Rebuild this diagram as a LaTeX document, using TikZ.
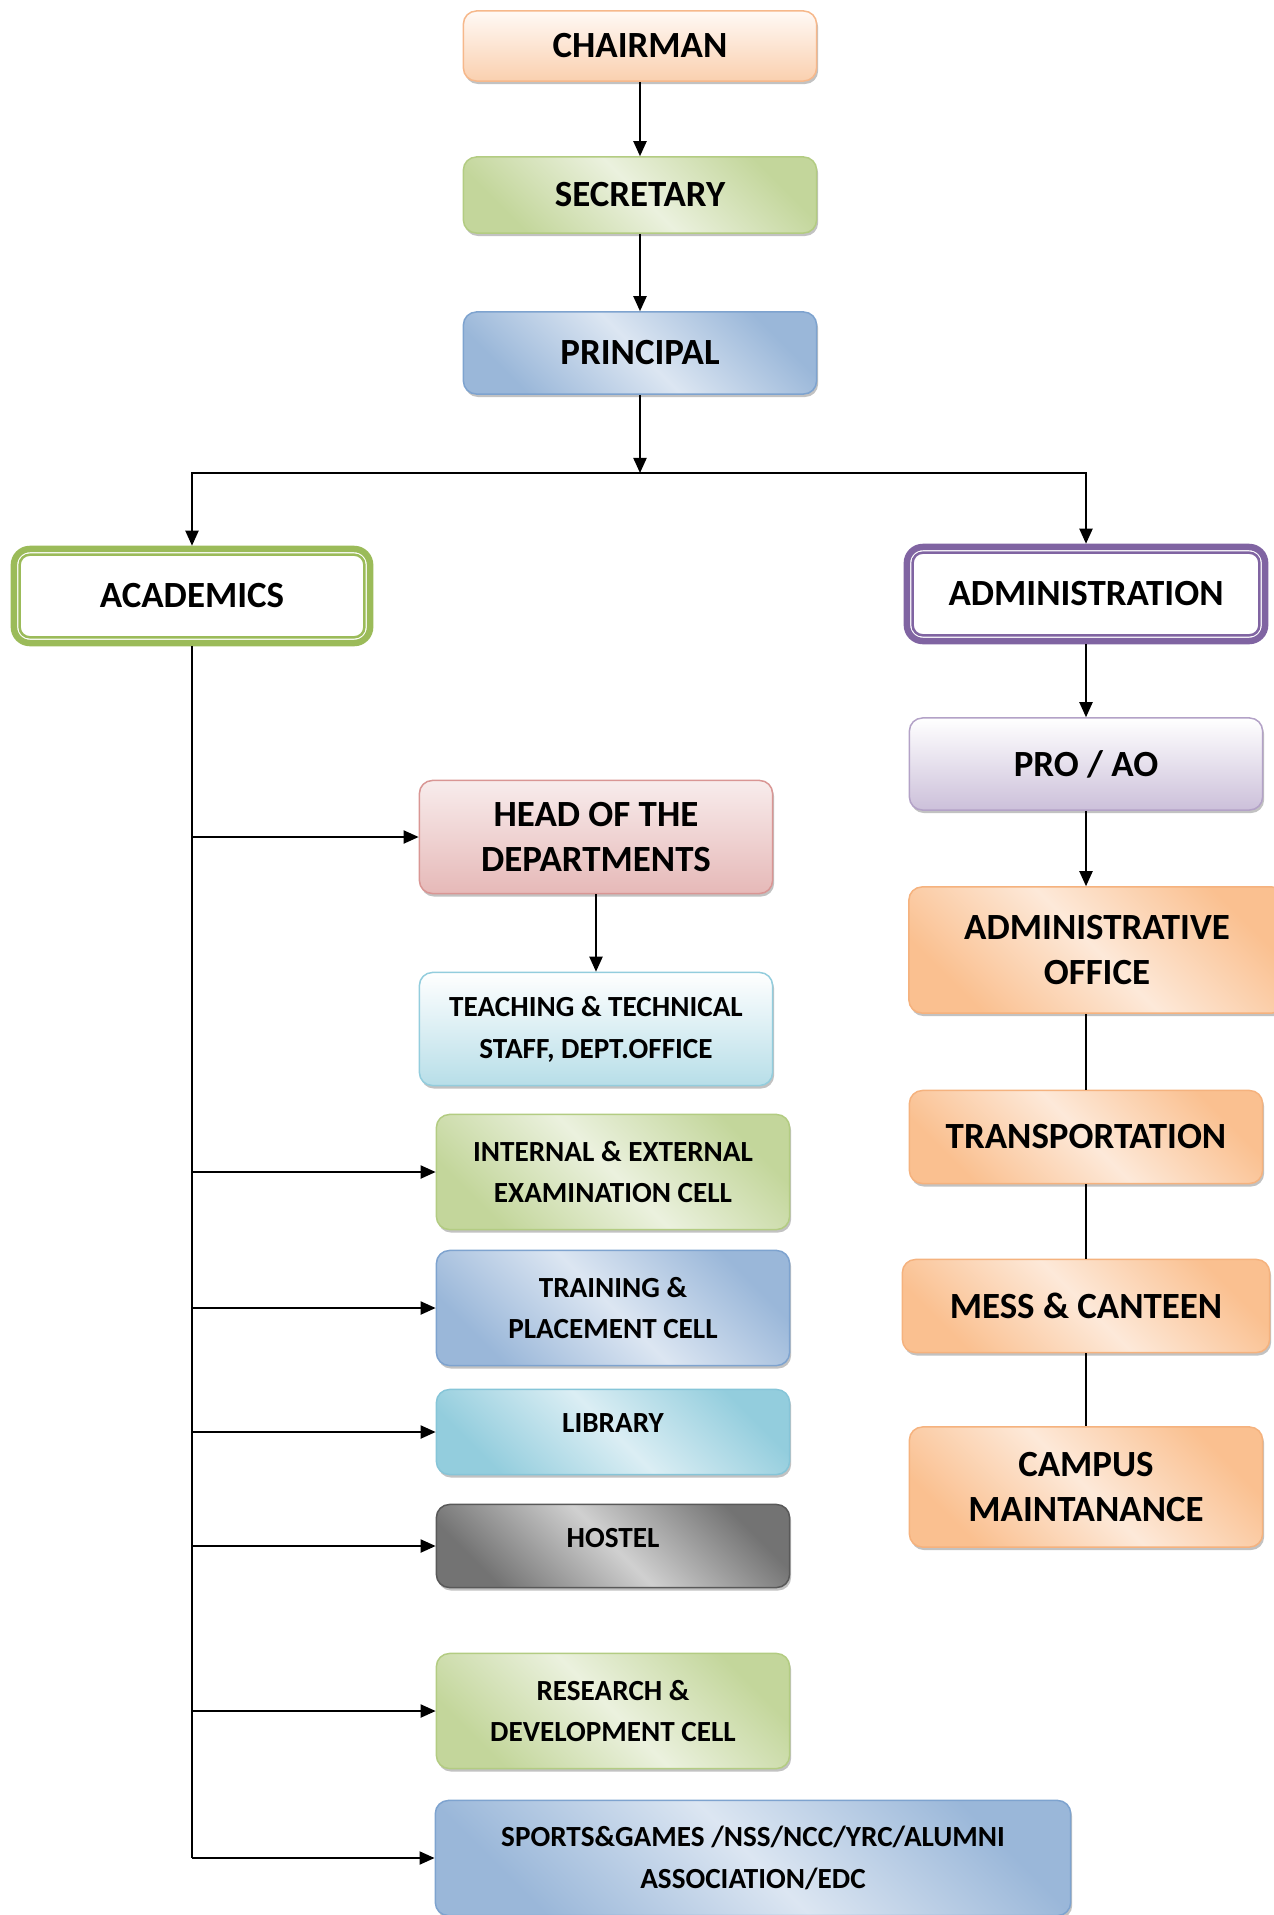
\documentclass[tikz,border=0pt]{standalone}
\usepackage{fontspec}
\setmainfont{Carlito}
\usetikzlibrary{arrows.meta,shadows,calc}

\definecolor{peachT}{HTML}{FFF9F5}
\definecolor{peachB}{HTML}{FAD0AF}
\definecolor{peachE}{HTML}{F6B88B}
\definecolor{greenD}{HTML}{C3D69B}
\definecolor{greenL}{HTML}{EBF1DE}
\definecolor{greenE}{HTML}{B3CC82}
\definecolor{blueD}{HTML}{9AB7D9}
\definecolor{blueL}{HTML}{DCE6F2}
\definecolor{blueE}{HTML}{7EA3CF}
\definecolor{acadG}{HTML}{9BBB59}
\definecolor{adminP}{HTML}{8064A2}
\definecolor{lilacB}{HTML}{CCC0DA}
\definecolor{lilacE}{HTML}{B3A2C7}
\definecolor{roseT}{HTML}{F8ECEC}
\definecolor{roseB}{HTML}{E6B9B8}
\definecolor{roseE}{HTML}{D99694}
\definecolor{aquaB}{HTML}{B7DEE8}
\definecolor{aquaD}{HTML}{93CDDD}
\definecolor{aquaL}{HTML}{DBEEF4}
\definecolor{aquaE}{HTML}{86C5D8}
\definecolor{greyD}{HTML}{737373}
\definecolor{greyL}{HTML}{D0D0D0}
\definecolor{greyE}{HTML}{595959}
\definecolor{orgD}{HTML}{FAC090}
\definecolor{orgL}{HTML}{FDE9D9}
\definecolor{orgE}{HTML}{F5B27E}

\begin{document}
\begin{tikzpicture}[x=0.01cm, y=-0.01cm, line width=0.02cm, >={Triangle[length=0.15cm, width=0.13cm]},
    box/.style = {draw=#1, line width=0.015cm, rounded corners=0.13cm, inner sep=0pt, align=center,
        minimum width=3.53cm, drop shadow={shadow xshift=0.015cm, shadow yshift=-0.03cm, opacity=0.4, fill=black!60}},
    vshade/.style 2 args = {top color=#1, bottom color=#2},
    dshade/.style 2 args = {top color=#1, bottom color=#1, middle color=#2, shading angle=-45},
    big/.style = {font=\fontsize{10.5}{12.8}\selectfont\bfseries},
    small/.style = {font=\fontsize{8.3}{11.9}\selectfont\bfseries},
    unitbox/.style = {draw=#1, line width=0.065cm, rounded corners=0.16cm, fill=white, inner sep=0pt,
        minimum width=3.56cm, minimum height=0.94cm, big},
    innerline/.style = {line width=0.025cm, rounded corners=0.1cm}]

\useasboundingbox (0,0) rectangle (1274,1915);

% top of the chart
\node[box=peachE, vshade={peachT}{peachB}, big, minimum height=0.7cm] (chair) at (640,46) {CHAIRMAN};
\node[box=greenE, dshade={greenD}{greenL}, big, minimum height=0.76cm] (sec) at (640,195) {SECRETARY};
\node[box=blueE, dshade={blueD}{blueL}, big, minimum height=0.82cm] (prin) at (640,353) {PRINCIPAL};
\coordinate (j) at (640,473);

\node[unitbox=acadG] (acad) at (192,596) {ACADEMICS};
\node[unitbox=adminP, minimum width=3.58cm] (admin) at (1086,594) {ADMINISTRATION};
\draw[innerline, acadG] ($(acad.north west)+(9,9)$) rectangle ($(acad.south east)+(-9,-9)$);
\draw[innerline, adminP] ($(admin.north west)+(9,9)$) rectangle ($(admin.south east)+(-9,-9)$);

% academics side
\node[box=roseE, vshade={roseT}{roseB}, big, minimum height=1.13cm] (hod) at (596,837) {HEAD OF THE\\DEPARTMENTS};
\node[box=aquaD, vshade={white}{aquaB}, small, minimum height=1.13cm] (teach) at (596,1029) {TEACHING \& TECHNICAL\\STAFF, DEPT.OFFICE};
\node[box=greenE, dshade={greenD}{greenL}, small, minimum height=1.15cm] (intl) at (613,1172) {INTERNAL \& EXTERNAL\\EXAMINATION CELL};
\node[box=blueE, dshade={blueD}{blueL}, small, minimum height=1.15cm] (train) at (613,1308) {TRAINING \&\\PLACEMENT CELL};
\node[box=aquaE, dshade={aquaD}{aquaL}, small, minimum height=0.85cm, text depth=0.17cm] (lib) at (613,1432) {LIBRARY};
\node[box=greyE, dshade={greyD}{greyL}, small, minimum height=0.83cm, text depth=0.17cm] (host) at (613,1546) {HOSTEL};
\node[box=greenE, dshade={greenD}{greenL}, small, minimum height=1.15cm] (res) at (613,1711) {RESEARCH \&\\DEVELOPMENT CELL};
\node[box=blueE, dshade={blueD}{blueL}, small, minimum height=1.15cm, minimum width=6.35cm] (sports) at (753,1858) {SPORTS\&GAMES /NSS/NCC/YRC/ALUMNI\\ASSOCIATION/EDC};

% administration side
\node[box=lilacE, vshade={white}{lilacB}, big, minimum height=0.92cm] (pro) at (1086,764) {PRO / AO};
\node[box=orgE, dshade={orgD}{orgL}, big, minimum height=1.26cm, minimum width=3.76cm] (aoff) at (1097,950) {ADMINISTRATIVE\\OFFICE};
\node[box=orgE, dshade={orgD}{orgL}, big, minimum height=0.93cm] (trans) at (1086,1137) {TRANSPORTATION};
\node[box=orgE, dshade={orgD}{orgL}, big, minimum height=0.93cm, minimum width=3.67cm] (mess) at (1086,1306) {MESS \& CANTEEN};
\node[box=orgE, dshade={orgD}{orgL}, big, minimum height=1.2cm] (campus) at (1086,1487) {CAMPUS\\MAINTANANCE};

\draw[->] (chair) -- (sec);
\draw[->] (sec) -- (prin);
\draw[->] (prin) -- (j);
\draw[->] (j) -| (acad);
\draw[->] (j) -| (admin);

\draw (acad) -- (acad |- sports);
\foreach \n in {hod,intl,train,lib,host,res,sports}
    \draw[->] (acad |- \n) -- (\n);
\draw[->] (hod) -- (teach);

\draw[->] (admin) -- (pro);
\draw[->] (pro) -- (pro |- aoff.north);
\draw[line width=0.015cm] (aoff.south -| pro) -- (trans);
\draw[line width=0.015cm] (trans) -- (mess);
\draw[line width=0.015cm] (mess) -- (campus);

\end{tikzpicture}
\end{document}
